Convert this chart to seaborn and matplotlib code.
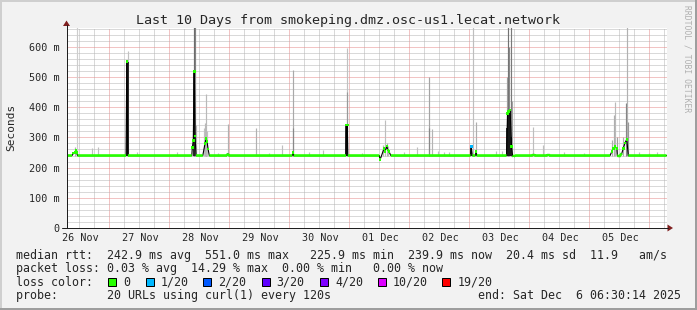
import numpy as np
import pandas as pd
import matplotlib
matplotlib.use("Agg")
import matplotlib.pyplot as plt
import seaborn as sns
from matplotlib.patches import Rectangle, Polygon
from matplotlib.lines import Line2D

# ---------------- data (hours since 26 Nov 00:00, rtt in ms) ----------------
title = "Last 10 Days from smokeping.dmz.osc-us1.lecat.network"
day_labels = ["26 Nov", "27 Nov", "28 Nov", "29 Nov", "30 Nov",
              "01 Dec", "02 Dec", "03 Dec", "04 Dec", "05 Dec"]
y_ticks = [0, 100, 200, 300, 400, 500, 600]
y_tick_labels = ["0", "100 m", "200 m", "300 m", "400 m", "500 m", "600 m"]

med_t = [6.9, 9.1, 9.7, 10.3, 10.6, 10.9, 11.3,
         30.7, 31.0, 31.4,
         57.0, 57.2, 57.6, 58.0, 58.3, 58.7,
         61.4, 62.3, 62.7, 63.1, 63.5, 64.0,
         71.1, 71.4, 71.7,
         97.2, 97.5, 97.8,
         118.7, 118.9, 119.2, 119.4,
         132.0, 132.3, 133.0, 133.9, 134.3, 135.0, 135.4, 135.9, 136.6,
         168.5, 168.8, 169.2,
         170.4, 170.7, 171.0,
         182.9, 183.3, 183.6, 184.3, 184.9, 185.3, 185.7, 186.3,
         193.4, 193.7, 194.0,
         199.3, 199.6, 199.9,
         224.3, 225.0, 225.6, 226.3, 227.0, 227.2, 227.6, 227.9,
         229.0, 229.6, 230.3, 231.0, 231.6,
         246.9]
med_v = [240, 240, 248, 252, 258, 250, 240,
         240, 551, 240,
         240, 266, 290, 518, 305, 240,
         240, 280, 297, 286, 262, 240,
         240, 246, 240,
         240, 250, 240,
         240, 341, 341, 240,
         240, 226, 242, 264, 253, 271, 258, 253, 240,
         240, 269, 240,
         240, 253, 240,
         240, 380, 385, 391, 270, 240, 237, 240,
         240, 244, 240,
         240, 244, 240,
         240, 253, 264, 269, 264, 240, 240, 236,
         247, 264, 282, 294, 240,
         240]
med_loss = [0] * len(med_t)
med_loss[med_t.index(168.8)] = 1

# smoke: time, top of smoke, density (0 light .. 1 dark)
smoke_t = [10.3, 10.9, 11.2, 17.2, 19.6, 31.3, 34.96, 51.2,
           57.4, 57.8, 58.1, 58.5,
           61.9, 62.3, 62.6, 62.8, 63.2,
           67.5, 71.4, 82.6, 93.0, 97.5, 97.5, 109.6,
           119.1, 119.0,
           133.5, 134.3, 135.0, 135.6,
           147.2, 152.0, 152.0, 153.0, 155.3, 157.7, 160.0,
           169.4, 170.7, 178.5, 181.0,
           183.0, 183.36, 184.0, 184.56, 185.0,
           193.4, 197.6,
           224.9, 225.9, 226.4, 226.9,
           229.6, 230.5, 230.96, 231.3,
           236.0, 240.0, 243.0, 88.0, 104.0, 125.0, 142.0, 206.0, 214.0]
smoke_top = [269, 262, 664, 265, 269, 586, 253, 253,
             360, 664, 664, 340,
             330, 348, 300, 444, 320,
             248, 343, 332, 275, 523, 330, 258,
             595, 450,
             275, 358, 280, 270,
             269, 501, 330, 327, 255, 252, 253,
             664, 352, 255, 256,
             500, 664, 600, 664, 420,
             333, 275,
             290, 374, 418, 300,
             300, 414, 664, 350,
             252, 250, 252, 250, 252, 250, 251, 252, 250]
smoke_dens = [0.30, 0.50, 0.12, 0.22, 0.22, 0.20, 0.22, 0.22,
              0.32, 0.75, 0.60, 0.28,
              0.20, 0.25, 0.50, 0.25, 0.20,
              0.22, 0.30, 0.30, 0.22, 0.35, 0.55, 0.22,
              0.20, 0.45,
              0.25, 0.22, 0.30, 0.25,
              0.22, 0.38, 0.55, 0.28, 0.22, 0.22, 0.22,
              0.22, 0.32, 0.22, 0.22,
              0.40, 0.70, 0.55, 0.65, 0.40,
              0.22, 0.22,
              0.32, 0.32, 0.25, 0.40,
              0.32, 0.60, 0.30, 0.45,
              0.22, 0.22, 0.22, 0.22, 0.22, 0.22, 0.22, 0.22, 0.22]

# dark (dense) smoke: time, top
dark_t = [31.0, 31.35, 57.9, 118.85, 119.15, 168.75,
          183.1, 183.5, 183.9, 184.3, 184.7]
dark_top = [551, 551, 518, 341, 341, 269,
            330, 380, 385, 391, 300]

stats_lines = [
    "median rtt:  242.9 ms avg  551.0 ms max   225.9 ms min  239.9 ms now  20.4 ms sd  11.9   am/s",
    "packet loss: 0.03 % avg  14.29 % max  0.00 % min   0.00 % now",
    "loss color:",
    "probe:       20 URLs using curl(1) every 120s",
]
end_text = "end: Sat Dec  6 06:30:14 2025"
loss_labels = ["0", "1/20", "2/20", "3/20", "4/20", "10/20", "19/20"]
loss_colors = ["#26ff00", "#00b8ff", "#0059ff", "#5e00ff", "#7e00ff", "#dd00ff", "#ff0000"]

# ---------------- figure ----------------
sns.set_style("white")
plt.rcParams['font.family'] = ['DejaVu Sans Mono', 'DejaVu Sans']

W, H = 697, 310
fig = plt.figure(figsize=(W / 100, H / 100), dpi=100, facecolor='#f2f2f2')


def fx(px):
    return px / W


def fy(py):
    return 1 - py / H


X0, X1, Y0, Y1 = 66.5, 666.5, 228.0, 27.5
ax = fig.add_axes([fx(X0), fy(Y0), (X1 - X0) / W, (Y0 - Y1) / H])
ax.set_facecolor('white')
XMIN, XMAX = 6.88, 246.88
ax.set_xlim(XMIN, XMAX)
ax.set_ylim(0, 664)
for s in ax.spines.values():
    s.set_visible(False)

PX = 0.72  # one pixel in points
minor_col = '#b4b4b4'
major_col = '#e68a8a'

# grid
for h in range(6, 247, 6):
    if h < XMIN:
        continue
    ax.axvline(h, color=major_col if h % 24 == 0 else minor_col, lw=PX,
               ls=(0, (1, 1)), zorder=0)
for v in range(20, 664, 20):
    ax.axhline(v, color=major_col if v % 100 == 0 else minor_col, lw=PX,
               ls=(0, (1, 1)), zorder=0)

# smoke
grays = [str(0.88 - 0.62 * d) for d in smoke_dens]
ax.vlines(smoke_t, 240, smoke_top, colors=grays, lw=0.85, zorder=2)
ax.vlines(dark_t, 240, dark_top, colors='#1a1a1a', lw=1.3, zorder=3)

# median line
df = pd.DataFrame({"t": med_t, "v": med_v, "loss": med_loss})
sns.lineplot(data=df, x="t", y="v", color='black', lw=0.8, ax=ax,
             estimator=None, sort=False, zorder=4, legend=False)
gt, gv = [], []
for i in range(len(med_t) - 1):
    a, b = med_v[i], med_v[i + 1]
    if 235 <= a <= 247 and 235 <= b <= 247:
        gt += [med_t[i], med_t[i + 1], np.nan]
        gv += [a, b, np.nan]
ax.plot(gt, gv, color=loss_colors[0], lw=1.9, solid_capstyle='butt', zorder=5)
pts = df[(df.v < 235) | (df.v > 247)]
ax.scatter(pts.t, pts.v, c=[loss_colors[l] for l in pts.loss], marker='s',
           s=3.5, lw=0, zorder=6)
ax.set_xlabel("")
ax.set_ylabel("")

# ticks
ax.set_yticks(y_ticks)
ax.set_yticklabels(y_tick_labels)
ax.set_yticks(list(range(20, 664, 20)), minor=True)
ax.set_xticks(list(range(24, 247, 24)))
ax.set_xticklabels([])
ax.set_xticks([h for h in range(12, 247, 6) if h % 24], minor=True)
ax.tick_params(axis='y', which='major', length=2, width=PX, color='#1f1f1f',
               pad=3.2, labelsize=7.3, direction='out')
ax.tick_params(axis='y', which='minor', length=1.5, width=PX, color='#aaaaaa',
               direction='out')
ax.tick_params(axis='x', which='major', length=2, width=PX, color='#e07070',
               direction='out')
ax.tick_params(axis='x', which='minor', length=1.5, width=PX, color='#aaaaaa',
               direction='out')
for i, lab in enumerate(day_labels):
    ax.text(24 * i + 12.3, -13 / 200.5, lab, transform=ax.get_xaxis_transform(),
            ha='center', va='baseline', fontsize=7.3)

# axes lines and arrows (pixel coordinates)
axis_col = '#1f1f1f'
arrow_col = '#801f1f'
fig.add_artist(Line2D([fx(66.5), fx(66.5)], [fy(228), fy(25)], color=axis_col, lw=PX))
fig.add_artist(Line2D([fx(62), fx(668)], [fy(228), fy(228)], color=axis_col, lw=PX))
fig.add_artist(Polygon([[fx(66.5), fy(20.5)], [fx(63), fy(26)], [fx(70), fy(26)]],
                       closed=True, color=arrow_col, lw=0))
fig.add_artist(Polygon([[fx(673), fy(228)], [fx(667.5), fy(224.5)], [fx(667.5), fy(231.5)]],
                       closed=True, color=arrow_col, lw=0))

# texts
fig.text(fx(348.5), fy(24), title, ha='center', va='baseline', fontsize=9.6)
fig.text(fx(11.5), fy(127), "Seconds", rotation=90, ha='center', va='center', fontsize=8.0)
fig.text(fx(687.5), fy(59), "RRDTOOL / TOBI OETIKER", rotation=270, ha='center',
         va='center', fontsize=5.8, color='#b0b0b0')

LF = 8.37
baselines = [258.5, 272.0, 285.5, 299.0]
for line, b in zip(stats_lines, baselines):
    fig.text(fx(16), fy(b), line, ha='left', va='baseline', fontsize=LF)
fig.text(fx(681), fy(baselines[3]), end_text, ha='right', va='baseline', fontsize=LF)

box_x = [108.3, 145.7, 203.3, 261.7, 320.0, 377.7, 442.3]
for bx, lab, col in zip(box_x, loss_labels, loss_colors):
    fig.add_artist(Rectangle((fx(bx), fy(285.5)), 8 / W, 8 / H, facecolor=col,
                             edgecolor='black', lw=PX))
    fig.text(fx(bx + 15), fy(285.5), lab, ha='left', va='baseline', fontsize=LF)

# frame
fig.add_artist(Rectangle((0, fy(2)), 1, 2 / H, color='#cfcfcf', lw=0))
fig.add_artist(Rectangle((0, 0), 2 / W, 1, color='#cfcfcf', lw=0))
fig.add_artist(Rectangle((0, 0), 1, 2 / H, color='#9e9e9e', lw=0))
fig.add_artist(Rectangle((1 - 2 / W, 0), 2 / W, 1, color='#9e9e9e', lw=0))

fig.savefig("out.png", dpi=100, facecolor=fig.get_facecolor())
